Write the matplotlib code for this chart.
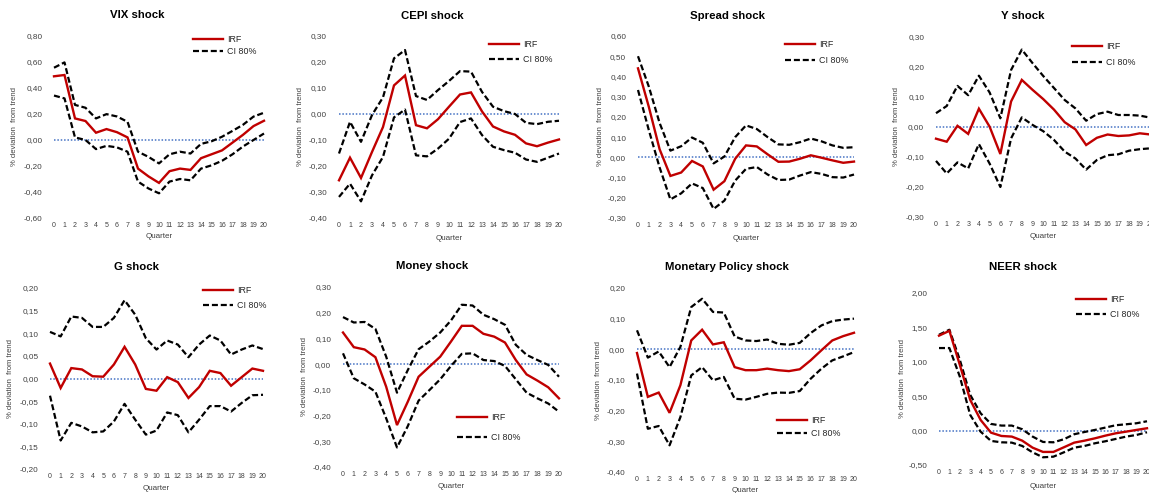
import matplotlib
matplotlib.use("Agg")
import matplotlib.pyplot as plt
from matplotlib.ticker import FixedLocator, FuncFormatter

plt.rcParams['font.family'] = ['Liberation Sans', 'DejaVu Sans']

# ---------------------------------------------------------------- data
quarters = list(range(21))

vix_irf = [0.49, 0.50, 0.166, 0.146, 0.056, 0.084, 0.06, 0.02, -0.22, -0.28, -0.33,
           -0.24, -0.22, -0.23, -0.14, -0.11, -0.08, -0.02, 0.04, 0.107, 0.148]
vix_hi = [0.556, 0.597, 0.27, 0.248, 0.166, 0.199, 0.181, 0.14, -0.09, -0.13, -0.18,
          -0.11, -0.09, -0.104, -0.03, -0.01, 0.025, 0.07, 0.117, 0.18, 0.21]
vix_lo = [0.342, 0.32, 0.02, 0.0, -0.07, -0.045, -0.057, -0.09, -0.32, -0.373, -0.41,
          -0.32, -0.30, -0.31, -0.22, -0.195, -0.16, -0.11, -0.05, 0.0, 0.05]
vix_yticks = [-0.6, -0.4, -0.2, 0.0, 0.2, 0.4, 0.6, 0.8]

cepi_irf = [-0.255, -0.168, -0.246, -0.146, -0.05, 0.11, 0.148, -0.043, -0.055, -0.02, 0.028,
            0.075, 0.083, 0.01, -0.048, -0.067, -0.08, -0.113, -0.124, -0.11, -0.098]
cepi_hi = [-0.152, -0.03, -0.107, -0.004, 0.064, 0.214, 0.246, 0.069, 0.054, 0.092, 0.127,
           0.165, 0.163, 0.085, 0.028, 0.011, 0.0, -0.034, -0.039, -0.03, -0.026]
cepi_lo = [-0.319, -0.268, -0.336, -0.236, -0.165, -0.013, 0.017, -0.159, -0.163, -0.133, -0.095,
           -0.031, -0.017, -0.081, -0.126, -0.139, -0.149, -0.175, -0.184, -0.168, -0.152]
cepi_yticks = [-0.4, -0.3, -0.2, -0.1, 0.0, 0.1, 0.2, 0.3]

spread_irf = [0.44, 0.25, 0.04, -0.092, -0.075, -0.018, -0.045, -0.16, -0.118, -0.007, 0.059,
              0.054, 0.015, -0.022, -0.021, -0.007, 0.01, -0.002, -0.015, -0.027, -0.021]
spread_hi = [0.50, 0.35, 0.17, 0.033, 0.055, 0.098, 0.072, -0.03, 0.004, 0.10, 0.158,
             0.14, 0.10, 0.064, 0.062, 0.075, 0.093, 0.079, 0.059, 0.047, 0.05]
spread_lo = [0.333, 0.135, -0.05, -0.208, -0.178, -0.129, -0.152, -0.255, -0.214, -0.115, -0.057,
             -0.048, -0.085, -0.112, -0.11, -0.09, -0.073, -0.082, -0.098, -0.10, -0.085]
spread_yticks = [-0.3, -0.2, -0.1, 0.0, 0.1, 0.2, 0.3, 0.4, 0.5, 0.6]

y_irf = [-0.039, -0.049, 0.004, -0.023, 0.061, 0.001, -0.09, 0.085, 0.157, 0.124, 0.093,
         0.058, 0.016, -0.008, -0.06, -0.036, -0.025, -0.03, -0.028, -0.021, -0.025]
y_hi = [0.046, 0.07, 0.137, 0.106, 0.171, 0.115, 0.029, 0.19, 0.258, 0.213, 0.17,
        0.13, 0.09, 0.062, 0.021, 0.043, 0.051, 0.04, 0.04, 0.038, 0.031]
y_lo = [-0.113, -0.155, -0.118, -0.138, -0.057, -0.122, -0.2, -0.038, 0.032, 0.007, -0.014,
        -0.043, -0.082, -0.105, -0.142, -0.11, -0.094, -0.091, -0.079, -0.074, -0.071]
y_yticks = [-0.3, -0.2, -0.1, 0.0, 0.1, 0.2, 0.3]

g_irf = [0.033, -0.021, 0.023, 0.02, 0.005, 0.004, 0.031, 0.07, 0.031, -0.023, -0.027,
         0.003, -0.008, -0.043, -0.019, 0.017, 0.012, -0.016, 0.003, 0.022, 0.017]
g_hi = [0.103, 0.093, 0.137, 0.134, 0.114, 0.114, 0.134, 0.173, 0.141, 0.089, 0.064,
        0.084, 0.075, 0.047, 0.075, 0.095, 0.084, 0.053, 0.064, 0.073, 0.065]
g_lo = [-0.038, -0.137, -0.098, -0.106, -0.119, -0.117, -0.095, -0.056, -0.091, -0.124, -0.115,
        -0.075, -0.081, -0.119, -0.091, -0.061, -0.061, -0.073, -0.054, -0.037, -0.036]
g_yticks = [-0.2, -0.15, -0.1, -0.05, 0.0, 0.05, 0.1, 0.15, 0.2]

money_irf = [0.123, 0.066, 0.057, 0.027, -0.088, -0.237, -0.146, -0.049, -0.01, 0.029, 0.088,
             0.149, 0.149, 0.118, 0.107, 0.084, 0.016, -0.04, -0.064, -0.09, -0.133]
money_hi = [0.183, 0.162, 0.164, 0.137, 0.029, -0.111, -0.023, 0.058, 0.088, 0.123, 0.17,
            0.231, 0.228, 0.192, 0.175, 0.153, 0.075, 0.036, 0.016, -0.003, -0.049]
money_lo = [0.042, -0.055, -0.079, -0.107, -0.211, -0.324, -0.241, -0.142, -0.101, -0.059, -0.007,
            0.04, 0.042, 0.016, 0.012, -0.007, -0.059, -0.111, -0.133, -0.153, -0.185]
money_yticks = [-0.4, -0.3, -0.2, -0.1, 0.0, 0.1, 0.2, 0.3]

mp_irf = [-0.012, -0.155, -0.141, -0.207, -0.117, 0.029, 0.064, 0.016, 0.023, -0.058, -0.068,
          -0.068, -0.063, -0.068, -0.071, -0.065, -0.036, -0.003, 0.029, 0.043, 0.054]
mp_hi = [0.062, -0.027, -0.007, -0.058, 0.008, 0.138, 0.165, 0.122, 0.12, 0.042, 0.029,
         0.027, 0.032, 0.018, 0.015, 0.021, 0.053, 0.078, 0.092, 0.097, 0.10]
mp_lo = [-0.079, -0.259, -0.25, -0.313, -0.221, -0.085, -0.058, -0.101, -0.09, -0.161, -0.164,
         -0.155, -0.145, -0.141, -0.142, -0.136, -0.096, -0.063, -0.036, -0.023, -0.009]
mp_yticks = [-0.4, -0.3, -0.2, -0.1, 0.0, 0.1, 0.2]

neer_irf = [1.38, 1.45, 0.956, 0.447, 0.155, -0.03, -0.078, -0.087, -0.146, -0.248, -0.31,
            -0.31, -0.243, -0.175, -0.146, -0.112, -0.073, -0.039, -0.015, 0.01, 0.034]
neer_hi = [1.393, 1.466, 1.03, 0.52, 0.252, 0.097, 0.073, 0.073, 0.02, -0.087, -0.165,
           -0.17, -0.126, -0.053, -0.02, 0.01, 0.044, 0.078, 0.092, 0.107, 0.136]
neer_lo = [1.2, 1.2, 0.786, 0.228, -0.015, -0.15, -0.17, -0.175, -0.223, -0.316, -0.388,
           -0.379, -0.316, -0.248, -0.223, -0.184, -0.155, -0.121, -0.087, -0.063, -0.024]
neer_yticks = [-0.5, 0.0, 0.5, 1.0, 1.5, 2.0]

titles = ['VIX shock', 'CEPI shock', 'Spread shock', 'Y shock',
          'G shock', 'Money shock', 'Monetary Policy shock', 'NEER shock']
series = [(vix_irf, vix_hi, vix_lo, vix_yticks),
          (cepi_irf, cepi_hi, cepi_lo, cepi_yticks),
          (spread_irf, spread_hi, spread_lo, spread_yticks),
          (y_irf, y_hi, y_lo, y_yticks),
          (g_irf, g_hi, g_lo, g_yticks),
          (money_irf, money_hi, money_lo, money_yticks),
          (mp_irf, mp_hi, mp_lo, mp_yticks),
          (neer_irf, neer_hi, neer_lo, neer_yticks)]

# ---------------------------------------------------------------- layout (pixels)
W, H = 1149, 493
# x of first/last quarter, top/bottom of value axis, title centre,
# y-label x, x-label y, legend anchor (x, y of first row), legend row spacing
layout = [
    dict(x0=54, x1=264, top=36, bot=218, title=(137, 15), ylab=15, xlab=237, leg=(193, 40), sp=0.3),
    dict(x0=339, x1=559, top=36, bot=218, title=(432, 16), ylab=300, xlab=238, leg=(489, 45), sp=0.67),
    dict(x0=638, x1=854, top=36, bot=218, title=(728, 16), ylab=600, xlab=238, leg=(785, 45), sp=0.79),
    dict(x0=936, x1=1150.5, top=37, bot=217, title=(1023, 16), ylab=897, xlab=237, leg=(1072, 47), sp=0.79),
    dict(x0=50, x1=263, top=288, bot=469, title=(137, 267), ylab=11, xlab=489, leg=(203, 291), sp=0.67),
    dict(x0=343, x1=559, top=287, bot=467, title=(432, 266), ylab=304, xlab=487, leg=(457, 418), sp=1.24),
    dict(x0=637, x1=854, top=288, bot=472, title=(727, 267), ylab=598, xlab=491, leg=(777, 421), sp=0.45),
    dict(x0=939, x1=1147, top=293, bot=465, title=(1023, 267), ylab=902, xlab=486, leg=(1076, 300), sp=0.67),
]

RED = '#C00000'
BLUE = '#4472C4'
GREY = '#404040'

fig = plt.figure(figsize=(W / 100, H / 100), dpi=100)
fig.patch.set_facecolor('white')


def fx(px):
    return px / W


def fy(py):
    return 1 - py / H


def fmt(v, _pos=None):
    return f"{v:.2f}".replace('.', ',')


for title, (irf, hi, lo, yticks), L in zip(titles, series, layout):
    step = (L['x1'] - L['x0']) / (len(quarters) - 1)
    left = L['x0'] - step / 2
    right = L['x1'] + step / 2
    ax = fig.add_axes([fx(left), fy(L['bot']), (right - left) / W, (L['bot'] - L['top']) / H])
    ax.set_xlim(quarters[0] - 0.5, quarters[-1] + 0.5)
    ax.set_ylim(yticks[0], yticks[-1])
    for s in ax.spines.values():
        s.set_visible(False)
    ax.patch.set_alpha(0)

    ax.hlines(0, quarters[0], quarters[-1], colors=BLUE, linestyles=(0, (1, 1.2)), lw=1.1, zorder=1)
    l_irf, = ax.plot(quarters, irf, color=RED, lw=1.7, solid_joinstyle='miter', zorder=3)
    dash = (0, (2.7, 1.3))
    l_ci, = ax.plot(quarters, hi, color='black', lw=1.6, ls=dash, zorder=2)
    ax.plot(quarters, lo, color='black', lw=1.6, ls=dash, zorder=2)

    ax.xaxis.set_major_locator(FixedLocator(quarters))
    ax.set_xticklabels([str(q) for q in quarters])
    ax.yaxis.set_major_locator(FixedLocator(yticks))
    ax.yaxis.set_major_formatter(FuncFormatter(fmt))
    ax.tick_params(axis='x', length=0, pad=3.0, labelsize=5.0, labelcolor=GREY)
    ax.tick_params(axis='y', length=0, pad=4.6, labelsize=5.9, labelcolor=GREY)

    fig.text(fx(L['title'][0]), fy(L['title'][1]), title, ha='center', va='center',
             fontsize=8.2, fontweight='bold', color='black')
    fig.text(fx(L['ylab']), fy((L['top'] + L['bot']) / 2), '% deviation  from trend',
             rotation=90, ha='center', va='center', fontsize=5.5, color=GREY)
    fig.text(fx((L['x0'] + L['x1']) / 2), fy(L['xlab']), 'Quarter', ha='center', va='center',
             fontsize=5.8, color=GREY)

    ax.legend([l_irf, l_ci], ['IRF', 'CI 80%'], loc='upper left',
              bbox_to_anchor=(fx(L['leg'][0]), fy(L['leg'][1] - 5)),
              bbox_transform=fig.transFigure, frameon=False, borderpad=0,
              borderaxespad=0, handlelength=3.4, handletextpad=0.4,
              labelspacing=L['sp'], fontsize=6.4, labelcolor='#262626')

fig.savefig('out.png', dpi=100, facecolor='white')
